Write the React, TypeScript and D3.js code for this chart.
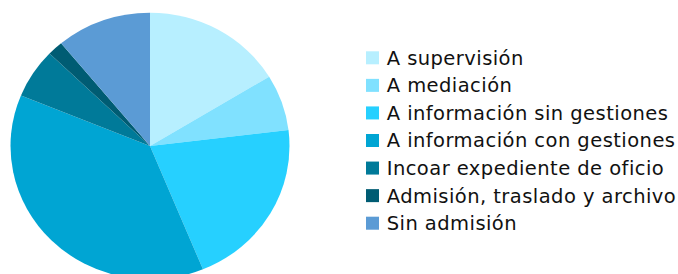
import { useEffect, useRef } from "react";
import * as d3 from "d3";

const categories = [
  "A supervisión",
  "A mediación",
  "A información sin gestiones",
  "A información con gestiones",
  "Incoar expediente de oficio",
  "Admisión, traslado y archivo",
  "Sin admisión",
];
const values = [16.3, 6.8, 20.7, 37.4, 6.0, 1.8, 11.0];
const colors = ["#b7efff", "#80e1ff", "#26d0ff", "#00a5d3", "#007a99", "#005c73", "#5b9bd5"];

const App: React.FC = () => {
  const svgRef = useRef<SVGSVGElement>(null);

  useEffect(() => {
    const svg = d3.select(svgRef.current);
    svg.selectAll("*").remove();

    const width = 678;
    const height = 274;
    const cx = 150;
    const cy = 146;
    const rx = 139.5;
    const ry = 133.3;

    const pie = d3.pie<number>().sort(null).value((d) => d);
    const arc = d3.arc<d3.PieArcDatum<number>>().innerRadius(0).outerRadius(rx);

    svg
      .append("g")
      .attr("transform", `translate(${cx},${cy}) scale(1,${ry / rx})`)
      .selectAll("path")
      .data(pie(values))
      .join("path")
      .attr("d", arc)
      .attr("fill", (_, i) => colors[i]);

    const y = d3.scalePoint<string>().domain(categories).range([51.3, 216.7]);

    const legend = svg
      .append("g")
      .selectAll("g")
      .data(categories)
      .join("g")
      .attr("transform", (d) => `translate(366,${y(d)})`);

    legend
      .append("rect")
      .attr("width", 13)
      .attr("height", 13)
      .attr("fill", (_, i) => colors[i]);

    legend
      .append("text")
      .attr("x", 20.7)
      .attr("y", 13.4)
      .attr("font-family", "DejaVu Sans, Verdana, sans-serif")
      .attr("font-size", 19.5)
      .attr("letter-spacing", 0.45)
      .attr("fill", "#111")
      .text((d) => d);

    svg.attr("width", width).attr("height", height);
  }, []);

  return (
    <svg
      ref={svgRef}
      width={678}
      height={274}
      style={{ position: "absolute", left: 0, top: 0, background: "#fff" }}
    ></svg>
  );
};

export default App;
